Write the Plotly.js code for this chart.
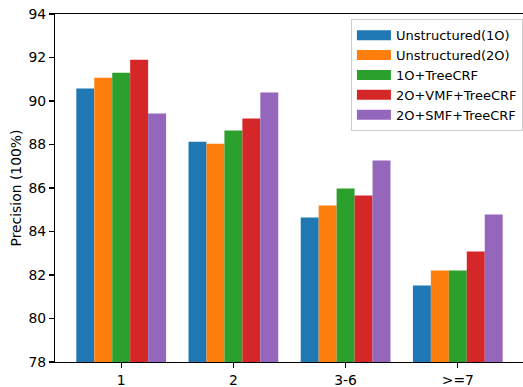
<!DOCTYPE html>
<html>
<head>
<meta charset="utf-8">
<script src="https://cdn.plot.ly/plotly-3.0.1.min.js"></script>
<style>
html, body { margin: 0; padding: 0; overflow: hidden; background: #fff; }
#chart { width: 525px; height: 387px; }
</style>
</head>
<body>
<div id="chart"></div>
<script>
const categories = ["1", "2", "3-6", ">=7"];
const seriesNames = ["Unstructured(1O)", "Unstructured(2O)", "1O+TreeCRF", "2O+VMF+TreeCRF", "2O+SMF+TreeCRF"];
const unstructured1O = [90.57, 88.13, 84.64, 81.52];
const unstructured2O = [91.07, 88.04, 85.19, 82.21];
const treeCRF1O = [91.30, 88.64, 85.98, 82.21];
const vmfTreeCRF2O = [91.90, 89.19, 85.65, 83.08];
const smfTreeCRF2O = [89.42, 90.39, 87.26, 84.78];
const yTicks = [78, 80, 82, 84, 86, 88, 90, 92, 94];

const seriesValues = [unstructured1O, unstructured2O, treeCRF1O, vmfTreeCRF2O, smfTreeCRF2O];
const colors = ["#1f77b4", "#ff7f0e", "#2ca02c", "#d62728", "#9467bd"];
const FONT = "DejaVu Sans, sans-serif";
const FS = 13.9;

const traces = [];
seriesValues.forEach((vals, i) => {
  traces.push({
    type: "bar",
    x: categories,
    y: vals,
    name: seriesNames[i],
    marker: { color: colors[i], line: { width: 0 } },
    showlegend: false,
    hoverinfo: "skip"
  });
});
// legend entries (wide patch look like matplotlib)
seriesValues.forEach((vals, i) => {
  traces.push({
    type: "scatter",
    mode: "lines",
    x: [null],
    y: [null],
    name: seriesNames[i],
    line: { color: colors[i], width: 10 },
    showlegend: true,
    hoverinfo: "skip"
  });
});

const layout = {
  width: 525,
  height: 387,
  margin: { l: 55, r: 1, t: 14, b: 25, pad: 0 },
  paper_bgcolor: "#ffffff",
  plot_bgcolor: "#ffffff",
  font: { family: FONT, size: FS, color: "#000" },
  barmode: "group",
  bargap: 0.2,
  bargroupgap: 0,
  showlegend: true,
  legend: {
    x: 0.631, y: 0.985, xanchor: "left", yanchor: "top",
    bgcolor: "rgba(255,255,255,0.8)",
    bordercolor: "#cccccc",
    borderwidth: 1,
    font: { family: FONT, size: 13, color: "#000" },
    itemwidth: 34,
    tracegroupgap: 0
  },
  xaxis: {
    type: "category",
    range: [-0.59, 3.59],
    showgrid: false,
    zeroline: false,
    showline: true,
    linecolor: "#000",
    linewidth: 1.1,
    mirror: true,
    ticks: "outside",
    ticklen: 5,
    tickwidth: 1.1,
    tickcolor: "#000",
    tickfont: { family: FONT, size: FS, color: "#000" },
    fixedrange: true
  },
  yaxis: {
    range: [78, 94],
    tickvals: yTicks,
    ticktext: yTicks.map(String),
    showgrid: false,
    zeroline: false,
    showline: true,
    linecolor: "#000",
    linewidth: 1.1,
    mirror: true,
    ticks: "outside",
    ticklen: 5,
    tickwidth: 1.1,
    tickcolor: "#000",
    tickfont: { family: FONT, size: FS, color: "#000" },
    title: { text: "Precision (100%)", font: { family: FONT, size: FS, color: "#000" }, standoff: 3 },
    fixedrange: true
  }
};

Plotly.newPlot("chart", traces, layout, { staticPlot: true, displayModeBar: false });
</script>
</body>
</html>
